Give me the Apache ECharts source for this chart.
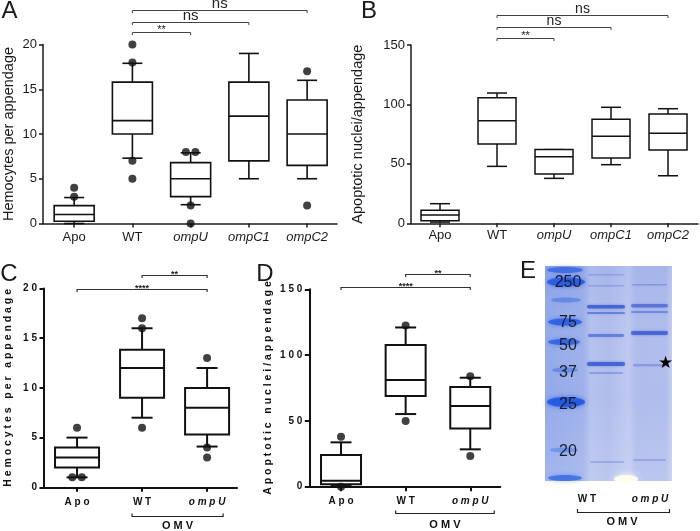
<!DOCTYPE html>
<html><head><meta charset="utf-8">
<script src="https://cdn.jsdelivr.net/npm/echarts@6/dist/echarts.min.js"></script>
<style>html,body{margin:0;padding:0;background:#fff}#c{width:700px;height:531px}</style>
</head><body><div id="c"></div>
<script>
// ---------- DATA ----------
const catsAB = ['Apo', 'WT', 'ompU', 'ompC1', 'ompC2'];
const catsCD = ['Apo', 'WT', 'ompU'];
const italicCats = ['ompU', 'ompC1', 'ompC2'];
// box rows: [min, q1, median, q3, max]
const boxA = [[0, 0.25, 1, 2, 2.9], [7.3, 10, 11.5, 15.8, 17.9], [2.1, 3, 5, 6.8, 7.9], [5, 7, 12, 15.8, 19], [5, 6.5, 10, 13.8, 16]];
const outA = [[0, 4], [0, 3], [1, 20], [1, 18], [1, 7], [1, 5], [2, 8], [2, 8], [2, 2], [2, 0], [4, 17], [4, 2]];
const boxB = [[1, 2.2, 7, 11, 16.5], [47.9, 66.7, 86.3, 105.7, 109.6], [37.8, 41.5, 56, 62, 62], [49.3, 55, 73.2, 87.5, 97.6], [40, 61.7, 75.7, 92, 96.4]];
const outB = [];
const boxC = [[1, 2, 3, 4, 5], [7, 9, 12, 13.85, 16], [4.1, 5.3, 8, 10, 12]];
const outC = [[0, 6], [0, 1], [0, 1], [1, 17], [1, 16], [1, 6], [2, 13], [2, 4], [2, 3]];
const boxD = [[0.5, 1.8, 4.6, 24, 33.7], [55.2, 68.9, 81, 107.7, 121], [28.4, 44.3, 61.3, 75.8, 82.8]];
const outD = [[0, 38], [0, 0], [1, 122.4], [1, 49.9], [2, 84], [2, 23.3]];
// significance brackets: [fromCat, toCat, label]
const sigAB = [[1, 2, '**'], [1, 3, 'ns'], [1, 4, 'ns']];
const sigCD = [[0, 2, '****'], [1, 2, '**']];
const groupCD = [1, 2, 'OMV'];
const titleAC = 'Hemocytes per appendage';
const titleBD = 'Apoptotic nuclei/appendage';
const gelMarkers = ['250', '75', '50', '37', '25', '20'];
const gelLanes = ['WT', 'ompU'];

// ---------- LAYOUT ----------
const FF = "'Liberation Sans', Arial, sans-serif";
const L = {
  A: {left: 41.7, top: 44.5, width: 295.3, height: 179, xmin: -0.535, xmax: 4.513, ymax: 20, yint: 5, levels: [21.4, 22.5, 23.85]},
  B: {left: 411, top: 45, width: 287, height: 178.3, xmin: -0.509, xmax: 4.526, ymax: 150, yint: 50, levels: [156, 165, 175]},
  C: {left: 44, top: 288.5, width: 193, height: 198.8, xmin: -0.508, xmax: 2.46, ymax: 20, yint: 5, levels: [19.95, 21.4]},
  D: {left: 309.3, top: 289.3, width: 191, height: 197.4, xmin: -0.491, xmax: 2.465, ymax: 150, yint: 50, levels: [151.5, 161.6]}
};
const spaced = s => s.split('').join(' ');
const keys = ['A', 'B', 'C', 'D'];
const styleAB = {bold: false, lw: 1.5, tickLen: 4, labelSize: 13, titleSize: 14.5, color: '#1a1a1a'};
const styleCD = {bold: true, lw: 2, tickLen: 4.5, labelSize: 10, titleSize: 10.5, color: '#111'};

const grids = keys.map(k => ({left: L[k].left, top: L[k].top, width: L[k].width, height: L[k].height}));

function xAxis(gi, cats, k, st, margin) {
  const vals = cats.map((_, i) => i);
  const w = st.bold ? 'bold' : 'normal';
  return {
    type: 'value', gridIndex: gi, min: L[k].xmin, max: L[k].xmax,
    axisLine: {show: true, onZero: false, lineStyle: {color: st.color, width: st.lw}},
    axisTick: {show: true, length: st.tickLen, customValues: vals, lineStyle: {color: st.color, width: st.lw}},
    splitLine: {show: false},
    axisLabel: {
      show: true, customValues: vals, margin: margin,
      fontFamily: FF, fontSize: st.labelSize, fontWeight: w, color: st.color,
      formatter: v => {
        const c = cats[Math.round(v)];
        const t = st.bold ? spaced(c) : c;
        return italicCats.includes(c) ? '{it|' + t + '}' : '{n|' + t + '}';
      },
      rich: {
        it: {fontStyle: 'italic', fontFamily: FF, fontSize: st.labelSize, fontWeight: w, color: st.color},
        n: {fontFamily: FF, fontSize: st.labelSize, fontWeight: w, color: st.color}
      }
    }
  };
}
function yAxis(gi, k, st, name, nameGap, margin) {
  return {
    type: 'value', gridIndex: gi, min: 0, max: L[k].ymax, interval: L[k].yint,
    axisLine: {show: true, onZero: false, lineStyle: {color: st.color, width: st.lw}},
    axisTick: {show: true, length: st.tickLen, lineStyle: {color: st.color, width: st.lw}},
    splitLine: {show: false},
    axisLabel: {margin: margin, fontFamily: FF, fontSize: st.labelSize, fontWeight: st.bold ? 'bold' : 'normal', color: st.color,
      formatter: v => st.bold ? spaced(String(v)) : String(v)},
    name: st.bold ? spaced(name) : name, nameLocation: 'middle', nameGap: nameGap,
    nameTextStyle: {fontFamily: FF, fontSize: st.titleSize, fontWeight: st.bold ? 'bold' : 'normal', color: st.color}
  };
}

function boxSeries(gi, boxes, o) {
  return {
    type: 'custom', xAxisIndex: gi, yAxisIndex: gi, clip: false, silent: true, z: 2,
    data: boxes.map((b, i) => [i].concat(b)),
    renderItem(params, api) {
      const x = api.value(0);
      const p = [1, 2, 3, 4, 5].map(d => api.coord([x, api.value(d)]));
      const cx = p[0][0];
      const hw = o.boxW / 2, cw = o.capW / 2;
      const ls = {stroke: '#111', lineWidth: o.lw, fill: null};
      const ch = [
        {type: 'line', shape: {x1: cx, y1: p[3][1], x2: cx, y2: p[4][1]}, style: ls},
        {type: 'line', shape: {x1: cx, y1: p[1][1], x2: cx, y2: p[0][1]}, style: ls},
        {type: 'line', shape: {x1: cx - cw, y1: p[4][1], x2: cx + cw, y2: p[4][1]}, style: ls},
        {type: 'line', shape: {x1: cx - cw, y1: p[0][1], x2: cx + cw, y2: p[0][1]}, style: ls},
        {type: 'rect', shape: {x: cx - hw, y: p[3][1], width: o.boxW, height: p[1][1] - p[3][1]}, style: {fill: '#fff', stroke: '#111', lineWidth: o.lw}},
        {type: 'line', shape: {x1: cx - hw, y1: p[2][1], x2: cx + hw, y2: p[2][1]}, style: ls}
      ];
      return {type: 'group', children: ch};
    }
  };
}
function outSeries(gi, outs, size) {
  const groups = {};
  outs.forEach((d, i) => { const k = d[0] + '_' + d[1]; (groups[k] = groups[k] || []).push(i); });
  const data = outs.map((d, i) => {
    const g = groups[d[0] + '_' + d[1]];
    const j = g.indexOf(i);
    const off = (j - (g.length - 1) / 2) * 9.5;
    return {value: d, symbolOffset: [off, 0]};
  });
  return {type: 'scatter', xAxisIndex: gi, yAxisIndex: gi, clip: false, silent: true, z: 3,
    symbol: 'circle', symbolSize: size, itemStyle: {color: '#111'}, data};
}
function sigSeries(gi, sig, levels, o) {
  return {
    type: 'custom', xAxisIndex: gi, yAxisIndex: gi, clip: false, silent: true, z: 4,
    data: sig.map((s, i) => [s[0], levels[i], s[1]]),
    renderItem(params, api) {
      const s = sig[params.dataIndex];
      const p1 = api.coord([api.value(0), api.value(1)]);
      const p2 = api.coord([api.value(2), api.value(1)]);
      const y = Math.round(p1[1]) + 0.5;
      const star = s[2].indexOf('*') >= 0;
      return {type: 'group', children: [
        {type: 'polyline', shape: {points: [[p1[0], y + o.tick], [p1[0], y], [p2[0], y], [p2[0], y + o.tick]]},
          style: {stroke: o.color, lineWidth: o.lw, fill: null}},
        {type: 'text', style: {text: s[2], x: (p1[0] + p2[0]) / 2, y: y - (star ? o.starGap : o.nsGap),
          align: 'center', verticalAlign: 'middle', font: star ? o.starFont : o.nsFont, fill: o.textColor}}
      ]};
    }
  };
}
function groupSeries(gi, grp, o) {
  return {
    type: 'custom', xAxisIndex: gi, yAxisIndex: gi, clip: false, silent: true,
    data: [[grp[0], 0, grp[1]]],
    renderItem(params, api) {
      const p1 = api.coord([api.value(0), 0]);
      const p2 = api.coord([api.value(2), 0]);
      const x1 = p1[0] + o.padL, x2 = p2[0] + o.padR, y = Math.round(p1[1] + o.dy) + 0.5;
      return {type: 'group', children: [
        {type: 'polyline', shape: {points: [[x1, y - 3], [x1, y], [x2, y], [x2, y - 3]]}, style: {stroke: '#222', lineWidth: 1.2, fill: null}},
        {type: 'text', style: {text: spaced(grp[2]), x: (x1 + x2) / 2, y: y + o.textDy, align: 'center', verticalAlign: 'middle',
          font: 'bold 11px ' + FF, fill: '#111'}}
      ]};
    }
  };
}

const sigOptAB = {tick: 2.5, lw: 1, color: '#444', textColor: '#222', starGap: 2.5, nsGap: 6.5,
  starFont: '11px ' + FF, nsFont: '15px ' + FF};
const sigOptB = Object.assign({}, sigOptAB, {nsFont: '14px ' + FF});
const sigOptCD = {tick: 2.5, lw: 1.2, color: '#333', textColor: '#222', starGap: 1.2, nsGap: 6,
  starFont: 'bold 9px ' + FF, nsFont: 'bold 11px ' + FF};

const series = [
  boxSeries(0, boxA, {boxW: 40, capW: 20, lw: 1.6}),
  outSeries(0, outA, 8),
  sigSeries(0, sigAB, L.A.levels, sigOptAB),
  boxSeries(1, boxB, {boxW: 38, capW: 20, lw: 1.5}),
  outSeries(1, outB, 8),
  sigSeries(1, sigAB, L.B.levels, sigOptB),
  boxSeries(2, boxC, {boxW: 44, capW: 21, lw: 2}),
  outSeries(2, outC, 8),
  sigSeries(2, sigCD, L.C.levels, sigOptCD),
  groupSeries(2, groupCD, {padL: -10, padR: 16, dy: 28.7, textDy: 9}),
  boxSeries(3, boxD, {boxW: 40, capW: 21, lw: 2}),
  outSeries(3, outD, 8),
  sigSeries(3, sigCD, L.D.levels, sigOptCD),
  groupSeries(3, groupCD, {padL: -10, padR: 24, dy: 26.5, textDy: 11.5})
];

// ---------- Panel E (gel photograph, drawn as graphics) ----------
const gel = {x: 545, y: 266, w: 127, h: 215};
const markerY = [283, 323, 346, 373, 405, 452];
function band(x, y, w, h, a) {
  return {type: 'rect', shape: {x, y, width: w, height: h, r: h / 2},
    style: {fill: 'rgba(45,80,205,' + a + ')', shadowBlur: 3, shadowColor: 'rgba(45,80,205,' + a + ')'}};
}
function blob(cx, cy, rx, ry, a) {
  return {type: 'ellipse', shape: {cx, cy, rx, ry},
    style: {fill: 'rgba(30,85,225,' + a + ')', shadowBlur: 5, shadowColor: 'rgba(30,85,225,' + a + ')'}};
}
const gelChildren = [
  {type: 'rect', shape: {x: gel.x, y: gel.y, width: gel.w, height: gel.h},
    style: {fill: {type: 'linear', x: 0, y: 0, x2: 1, y2: 0, colorStops: [
      {offset: 0, color: '#93a9ea'}, {offset: 0.3, color: '#9db0ea'}, {offset: 0.36, color: '#b5c2ee'},
      {offset: 0.5, color: '#b0bdec'}, {offset: 0.66, color: '#bfc9f0'}, {offset: 0.72, color: '#afbcec'},
      {offset: 0.95, color: '#b0bdec'}, {offset: 1, color: '#c4cdf1'}]}}},
  {type: 'rect', shape: {x: gel.x, y: gel.y, width: gel.w, height: gel.h},
    style: {fill: {type: 'linear', x: 0, y: 0, x2: 0, y2: 1, colorStops: [
      {offset: 0, color: 'rgba(90,120,220,0.12)'}, {offset: 0.6, color: 'rgba(255,255,255,0)'}, {offset: 1, color: 'rgba(255,255,255,0.15)'}]}}},
  blob(565, 270, 18, 3, 0.6), blob(566, 282, 19, 4.5, 0.8), blob(566, 300, 15, 2.5, 0.35),
  blob(565, 322, 17, 3.5, 0.75), blob(564, 342, 16, 3, 0.7), blob(565, 370, 13, 2.5, 0.35),
  blob(566, 402, 19, 5, 0.85), blob(564, 450, 14, 2.5, 0.3), blob(565, 478, 17, 3, 0.6),
  band(588, 274, 36, 1.5, 0.22), band(588, 285, 36, 1.5, 0.22), band(587, 305, 38, 3.5, 0.7),
  band(587, 312, 38, 2, 0.5), band(588, 334, 36, 3, 0.5), band(587, 362, 38, 4, 0.7),
  band(589, 372, 34, 2, 0.28), band(590, 461, 34, 2, 0.22),
  band(632, 284, 35, 1.5, 0.28), band(631, 304, 37, 3.5, 0.55), band(631, 311, 37, 2, 0.42),
  band(631, 331, 37, 4, 0.68), band(633, 364, 33, 2.5, 0.28), band(633, 459, 33, 2, 0.22),
  {type: 'ellipse', shape: {cx: 626, cy: 479, rx: 12, ry: 4}, style: {fill: 'rgba(255,255,235,0.9)', shadowBlur: 6, shadowColor: '#fff'}}
];
gelMarkers.forEach((m, i) => gelChildren.push({type: 'text', style: {text: m, x: 568, y: markerY[i], align: 'center', verticalAlign: 'middle',
  font: '16px ' + FF, fill: '#1a1d2e'}}));
gelChildren.push({type: 'text', style: {text: '★', x: 665, y: 363, align: 'center', verticalAlign: 'middle', font: '17px ' + FF, fill: '#000'}});

const graphic = [
  {type: 'text', style: {text: 'A', x: 9.5, y: 11.5, align: 'center', verticalAlign: 'middle', font: '24px ' + FF, fill: '#1a1a1a'}},
  {type: 'text', style: {text: 'B', x: 369, y: 11.5, align: 'center', verticalAlign: 'middle', font: '24px ' + FF, fill: '#1a1a1a'}},
  {type: 'text', style: {text: 'C', x: 9, y: 274, align: 'center', verticalAlign: 'middle', font: '24px ' + FF, fill: '#1a1a1a'}},
  {type: 'text', style: {text: 'D', x: 265, y: 274, align: 'center', verticalAlign: 'middle', font: '24px ' + FF, fill: '#1a1a1a'}},
  {type: 'text', style: {text: 'E', x: 528, y: 271.5, align: 'center', verticalAlign: 'middle', font: '24px ' + FF, fill: '#1a1a1a'}},
  {type: 'group', children: gelChildren},
  {type: 'text', style: {text: spaced(gelLanes[0]), x: 587, y: 499, align: 'center', verticalAlign: 'middle', font: 'bold 10px ' + FF, fill: '#111'}},
  {type: 'text', style: {text: spaced(gelLanes[1]), x: 650, y: 499, align: 'center', verticalAlign: 'middle', font: 'italic bold 10px ' + FF, fill: '#111'}},
  {type: 'polyline', shape: {points: [[577.5, 509], [577.5, 512.5], [669.5, 512.5], [669.5, 509]]}, style: {stroke: '#222', lineWidth: 1.2, fill: null}},
  {type: 'text', style: {text: spaced(groupCD[2]), x: 622, y: 522, align: 'center', verticalAlign: 'middle', font: 'bold 11px ' + FF, fill: '#111'}}
];

const option = {
  animation: false,
  backgroundColor: '#fff',
  textStyle: {fontFamily: FF},
  grid: grids,
  xAxis: [xAxis(0, catsAB, 'A', styleAB, 7), xAxis(1, catsAB, 'B', styleAB, 6), xAxis(2, catsCD, 'C', styleCD, 10), xAxis(3, catsCD, 'D', styleCD, 10)],
  yAxis: [yAxis(0, 'A', styleAB, titleAC, 27, 6), yAxis(1, 'B', styleAB, titleBD, 46, 6), yAxis(2, 'C', styleCD, titleAC, 30, 7), yAxis(3, 'D', styleCD, titleBD, 36, 7)],
  series,
  graphic
};
const chart = echarts.init(document.getElementById('c'), null, {renderer: 'canvas'});
chart.setOption(option);
</script></body></html>
